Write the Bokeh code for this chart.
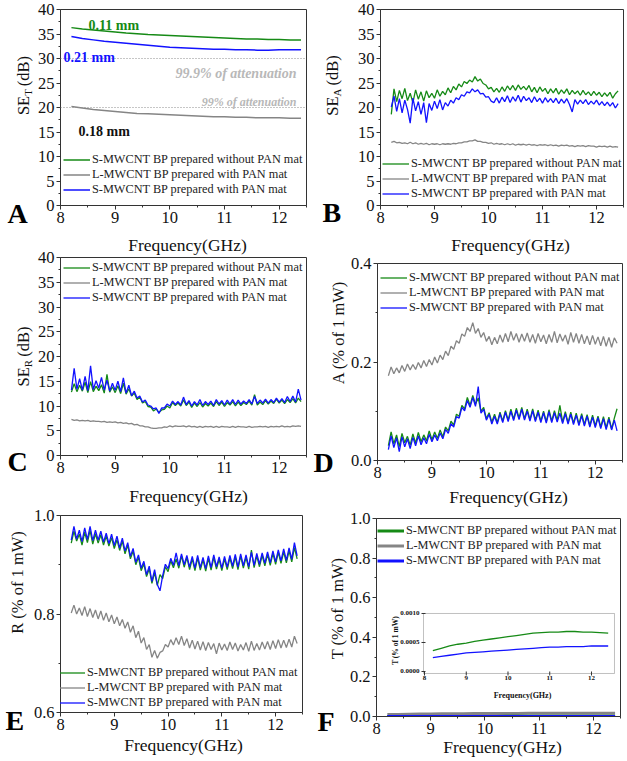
import math
from bokeh.plotting import figure
from bokeh.models import (Range1d, FixedTicker, NumeralTickFormatter, Label, Legend,
                          LegendItem, Span, BoxAnnotation, GridBox, Spacer)
from bokeh.layouts import row, column
from bokeh.core.properties import value
from bokeh.embed import file_html
from bokeh.resources import INLINE

FONT = "Liberation Serif"
GREEN = "#168a16"
BLUE = "#1212ff"
GRAY = "#858585"
AXIS = "#333333"

# ---------------- data ----------------
legend_labels = ["S-MWCNT BP prepared without PAN mat",
                 "L-MWCNT BP prepared with PAN mat",
                 "S-MWCNT BP prepared with PAN mat"]

x_ticks = [8, 9, 10, 11, 12]
x_minor = [8.5, 9.5, 10.5, 11.5, 12.5]

freq = [8.20, 8.25, 8.30, 8.35, 8.40, 8.45, 8.50, 8.55, 8.60, 8.65,
        8.70, 8.75, 8.80, 8.85, 8.90, 8.95, 9.00, 9.05, 9.10, 9.15,
        9.20, 9.25, 9.30, 9.35, 9.40, 9.45, 9.50, 9.55, 9.60, 9.65,
        9.70, 9.75, 9.80, 9.85, 9.90, 9.95, 10.00, 10.05, 10.10, 10.15,
        10.20, 10.25, 10.30, 10.35, 10.40, 10.45, 10.50, 10.55, 10.60, 10.65,
        10.70, 10.75, 10.80, 10.85, 10.90, 10.95, 11.00, 11.05, 11.10, 11.15,
        11.20, 11.25, 11.30, 11.35, 11.40, 11.45, 11.50, 11.55, 11.60, 11.65,
        11.70, 11.75, 11.80, 11.85, 11.90, 11.95, 12.00, 12.05, 12.10, 12.15,
        12.20, 12.25, 12.30, 12.35, 12.40]

freq_s = [8.2, 8.4, 8.6, 8.8, 9.0, 9.2, 9.4, 9.6, 9.8, 10.0, 10.2,
          10.4, 10.6, 10.8, 11.0, 11.2, 11.4, 11.6, 11.8, 12.0, 12.2, 12.4]

# Panel A: SE_T (dB)
set_green = [36.3, 36.0, 35.8, 35.6, 35.4, 35.2, 35.05, 34.9, 34.8, 34.7, 34.6,
             34.5, 34.4, 34.3, 34.2, 34.1, 34.0, 34.0, 33.9, 33.9, 33.8, 33.8]
set_gray = [20.2, 19.9, 19.6, 19.4, 19.2, 19.0, 18.8, 18.7, 18.6, 18.5, 18.4,
            18.3, 18.2, 18.1, 18.1, 18.0, 18.0, 17.9, 17.9, 17.9, 17.8, 17.8]
set_blue = [34.5, 34.1, 33.8, 33.5, 33.3, 33.1, 32.9, 32.7, 32.5, 32.3, 32.2,
            32.1, 32.0, 31.9, 31.9, 31.8, 31.8, 31.7, 31.7, 31.8, 31.8, 31.8]
atten_levels = [30, 20]
atten_texts = ["99.9% of attenuation", "99% of attenuation"]
thickness_texts = ["0.11 mm", "0.21 mm", "0.18 mm"]

# Panel B: SE_A (dB)
sea_green = [18.6, 23.8, 21.2, 23.5, 21.8, 23.9, 21.4, 22.9, 21.0, 23.6,
             21.7, 23.2, 21.3, 23.4, 22.0, 22.9, 21.9, 23.6, 22.3, 23.3,
             22.6, 24.0, 23.0, 24.3, 23.6, 24.8, 24.2, 25.3, 24.9, 25.6,
             25.2, 26.3, 25.4, 25.8, 24.9, 24.6, 23.8, 24.1, 23.2, 23.9,
             23.1, 24.2, 23.3, 24.4, 23.6, 24.5, 23.5, 24.6, 23.7, 24.3,
             23.6, 24.5, 23.2, 24.1, 23.0, 24.2, 23.3, 23.9, 22.8, 23.8,
             23.0, 23.9, 22.7, 23.6, 22.9, 23.8, 22.6, 23.5, 22.8, 23.4,
             22.5, 23.5, 22.6, 23.2, 22.4, 23.3, 22.5, 23.1, 22.2, 23.0,
             22.3, 23.1, 21.9, 22.8, 23.4]
sea_gray = [12.9, 13.1, 12.8, 12.9, 12.7, 12.8, 12.6, 12.9, 12.6, 12.8,
            12.5, 12.7, 12.5, 12.7, 12.4, 12.6, 12.5, 12.6, 12.4, 12.6,
            12.5, 12.6, 12.5, 12.7, 12.6, 12.8, 12.8, 13.0, 13.0, 13.2,
            13.2, 13.4, 13.1, 13.1, 12.9, 12.9, 12.7, 12.8, 12.5, 12.7,
            12.5, 12.6, 12.4, 12.6, 12.4, 12.6, 12.3, 12.5, 12.4, 12.5,
            12.3, 12.5, 12.3, 12.4, 12.2, 12.4, 12.3, 12.4, 12.2, 12.4,
            12.2, 12.3, 12.1, 12.3, 12.2, 12.3, 12.1, 12.2, 12.0, 12.2,
            12.1, 12.2, 12.0, 12.2, 12.1, 12.1, 11.9, 12.1, 12.0, 12.1,
            11.9, 12.1, 11.9, 12.0, 11.9]
sea_blue = [20.1, 22.3, 19.2, 21.8, 18.9, 21.5, 19.6, 16.8, 21.9, 19.3,
            21.2, 18.6, 21.0, 16.9, 20.8, 19.4, 21.3, 19.8, 21.6, 19.5,
            21.0, 20.3, 21.5, 20.9, 22.0, 21.6, 22.6, 22.3, 23.2, 23.0,
            23.8, 23.2, 23.6, 22.8, 22.9, 22.1, 22.2, 21.3, 21.0, 22.0,
            20.9, 22.1, 21.2, 22.4, 21.0, 22.2, 21.3, 22.5, 21.1, 22.3,
            21.4, 22.0, 21.0, 22.2, 21.2, 21.9, 20.9, 22.0, 21.1, 21.8,
            21.0, 21.9, 20.8, 21.7, 20.9, 21.8, 20.6, 19.1, 21.6, 20.7,
            21.5, 20.8, 21.6, 20.6, 21.3, 20.7, 21.5, 20.5, 21.2, 20.4,
            21.1, 20.3, 21.0, 19.9, 20.8]

# Panel C: SE_R (dB)
ser_green = [12.8, 14.5, 12.9, 14.2, 13.0, 14.8, 12.7, 14.9, 12.9, 14.0,
             13.1, 14.3, 12.6, 16.4, 12.8, 13.9, 12.7, 14.1, 12.5, 14.6,
             12.4, 13.5, 12.0, 12.6, 11.3, 11.8, 10.6, 10.9, 9.9, 9.8,
             9.0, 9.4, 8.7, 9.2, 9.3, 10.0, 9.6, 10.7, 10.1, 10.6,
             10.0, 11.2, 10.1, 10.8, 9.7, 10.6, 9.9, 10.7, 9.8, 10.5,
             10.0, 10.6, 9.9, 10.9, 10.1, 10.8, 9.9, 10.7, 10.2, 10.9,
             10.0, 10.8, 10.1, 10.7, 10.3, 11.0, 10.2, 12.3, 10.2, 10.8,
             10.3, 11.1, 10.4, 11.0, 10.5, 11.4, 10.6, 11.2, 10.5, 11.3,
             10.7, 11.5, 10.6, 11.6, 10.9]
ser_gray = [7.3, 7.1, 7.2, 7.0, 7.1, 7.0, 7.1, 6.9, 7.0, 6.9,
            6.9, 6.8, 6.9, 6.7, 6.8, 6.7, 6.8, 6.6, 6.7, 6.5,
            6.6, 6.4, 6.5, 6.2, 6.3, 6.0, 6.0, 5.8, 5.8, 5.6,
            5.5, 5.5, 5.6, 5.6, 5.8, 5.7, 6.0, 5.8, 6.0, 5.9,
            5.9, 6.0, 5.8, 6.0, 5.8, 5.9, 5.7, 5.9, 5.7, 5.9,
            5.8, 5.9, 5.7, 5.9, 5.7, 5.9, 5.8, 5.8, 5.7, 5.9,
            5.7, 5.9, 5.8, 5.8, 5.7, 5.9, 5.7, 5.8, 5.8, 5.9,
            5.8, 5.9, 5.7, 5.9, 5.8, 5.9, 5.8, 6.0, 5.8, 5.9,
            5.8, 6.0, 5.9, 6.0, 5.9]
ser_blue = [13.2, 17.6, 13.4, 15.5, 13.2, 16.0, 13.1, 18.1, 13.3, 15.1,
            13.6, 15.8, 13.2, 15.2, 13.0, 14.6, 13.2, 15.0, 12.9, 15.7,
            12.6, 14.2, 12.1, 13.0, 11.6, 12.0, 10.8, 11.2, 10.2, 10.0,
            9.4, 9.6, 8.5, 9.6, 9.6, 10.4, 10.0, 11.0, 10.3, 10.9,
            10.2, 11.8, 10.3, 11.1, 10.0, 10.9, 10.2, 11.3, 10.1, 10.9,
            10.3, 11.0, 10.1, 11.3, 10.4, 11.1, 10.2, 11.2, 10.4, 11.3,
            10.3, 11.2, 10.4, 11.0, 10.5, 11.3, 10.4, 11.9, 10.5, 11.2,
            10.6, 11.4, 10.6, 11.3, 10.7, 11.6, 10.8, 11.5, 10.7, 11.9,
            10.9, 12.0, 10.8, 13.4, 11.2]

# Panel D: A (% of 1 mW)
abs_green = [0.030, 0.058, 0.034, 0.052, 0.028, 0.055, 0.036, 0.049, 0.031, 0.054,
             0.035, 0.057, 0.038, 0.052, 0.040, 0.060, 0.042, 0.058, 0.045, 0.062,
             0.048, 0.068, 0.060, 0.080, 0.072, 0.094, 0.090, 0.112, 0.105, 0.128,
             0.112, 0.132, 0.114, 0.127, 0.100, 0.108, 0.085, 0.097, 0.078, 0.094,
             0.077, 0.098, 0.080, 0.101, 0.082, 0.104, 0.084, 0.106, 0.086, 0.108,
             0.085, 0.104, 0.083, 0.105, 0.082, 0.102, 0.080, 0.100, 0.079, 0.103,
             0.080, 0.101, 0.081, 0.112, 0.078, 0.099, 0.077, 0.098, 0.076, 0.096,
             0.074, 0.095, 0.073, 0.093, 0.071, 0.092, 0.070, 0.090, 0.068, 0.089,
             0.066, 0.088, 0.064, 0.086, 0.105]
abs_gray = [0.172, 0.190, 0.176, 0.188, 0.178, 0.193, 0.181, 0.196, 0.184, 0.195,
            0.185, 0.199, 0.188, 0.203, 0.191, 0.205, 0.194, 0.210, 0.198, 0.214,
            0.205, 0.222, 0.213, 0.232, 0.226, 0.243, 0.238, 0.257, 0.252, 0.270,
            0.262, 0.280, 0.258, 0.268, 0.250, 0.260, 0.242, 0.252, 0.235, 0.250,
            0.237, 0.255, 0.240, 0.258, 0.241, 0.262, 0.244, 0.258, 0.240, 0.257,
            0.242, 0.259, 0.240, 0.256, 0.238, 0.258, 0.241, 0.255, 0.237, 0.256,
            0.240, 0.262, 0.239, 0.257, 0.242, 0.255, 0.236, 0.260, 0.240, 0.258,
            0.238, 0.256, 0.237, 0.253, 0.235, 0.254, 0.236, 0.251, 0.233, 0.252,
            0.232, 0.250, 0.230, 0.249, 0.238]
abs_blue = [0.022, 0.050, 0.026, 0.046, 0.018, 0.048, 0.028, 0.044, 0.024, 0.047,
            0.030, 0.050, 0.032, 0.046, 0.034, 0.053, 0.038, 0.052, 0.040, 0.056,
            0.044, 0.063, 0.055, 0.075, 0.068, 0.089, 0.086, 0.108, 0.101, 0.122,
            0.108, 0.128, 0.110, 0.150, 0.096, 0.104, 0.082, 0.094, 0.074, 0.090,
            0.074, 0.095, 0.077, 0.098, 0.079, 0.100, 0.081, 0.102, 0.083, 0.104,
            0.082, 0.100, 0.080, 0.101, 0.079, 0.098, 0.077, 0.097, 0.076, 0.099,
            0.077, 0.097, 0.078, 0.096, 0.075, 0.095, 0.074, 0.094, 0.073, 0.092,
            0.071, 0.091, 0.070, 0.090, 0.068, 0.088, 0.067, 0.087, 0.065, 0.085,
            0.063, 0.084, 0.062, 0.082, 0.060]

# Panel E: R (% of 1 mW)
ref_green = [0.944, 0.968, 0.948, 0.962, 0.940, 0.966, 0.945, 0.970, 0.942, 0.963,
             0.944, 0.961, 0.940, 0.958, 0.938, 0.955, 0.933, 0.951, 0.929, 0.948,
             0.922, 0.940, 0.912, 0.928, 0.900, 0.915, 0.888, 0.902, 0.876, 0.892,
             0.862, 0.884, 0.858, 0.880, 0.872, 0.896, 0.886, 0.908, 0.894, 0.912,
             0.893, 0.918, 0.895, 0.915, 0.890, 0.912, 0.888, 0.914, 0.889, 0.910,
             0.887, 0.913, 0.889, 0.915, 0.891, 0.911, 0.888, 0.912, 0.890, 0.914,
             0.892, 0.916, 0.890, 0.918, 0.893, 0.915, 0.891, 0.930, 0.894, 0.918,
             0.896, 0.919, 0.898, 0.921, 0.899, 0.923, 0.901, 0.925, 0.903, 0.926,
             0.904, 0.928, 0.906, 0.935, 0.912]
ref_gray = [0.802, 0.818, 0.800, 0.812, 0.797, 0.815, 0.795, 0.811, 0.793, 0.808,
            0.790, 0.806, 0.787, 0.802, 0.784, 0.798, 0.780, 0.794, 0.776, 0.789,
            0.771, 0.784, 0.763, 0.776, 0.752, 0.765, 0.741, 0.752, 0.728, 0.738,
            0.712, 0.726, 0.710, 0.722, 0.725, 0.738, 0.733, 0.748, 0.737, 0.752,
            0.738, 0.755, 0.736, 0.750, 0.731, 0.747, 0.729, 0.745, 0.727, 0.744,
            0.726, 0.742, 0.728, 0.740, 0.719, 0.741, 0.727, 0.739, 0.726, 0.743,
            0.728, 0.741, 0.725, 0.738, 0.727, 0.742, 0.724, 0.745, 0.726, 0.740,
            0.727, 0.743, 0.729, 0.744, 0.728, 0.746, 0.730, 0.748, 0.731, 0.747,
            0.732, 0.749, 0.733, 0.755, 0.740]
ref_blue = [0.950, 0.978, 0.952, 0.970, 0.947, 0.975, 0.951, 0.978, 0.949, 0.970,
            0.950, 0.968, 0.946, 0.964, 0.943, 0.962, 0.939, 0.958, 0.934, 0.954,
            0.928, 0.945, 0.917, 0.933, 0.905, 0.920, 0.893, 0.907, 0.880, 0.897,
            0.866, 0.890, 0.860, 0.847, 0.878, 0.901, 0.892, 0.913, 0.899, 0.924,
            0.898, 0.922, 0.900, 0.919, 0.895, 0.917, 0.893, 0.919, 0.894, 0.915,
            0.892, 0.918, 0.894, 0.920, 0.896, 0.916, 0.893, 0.917, 0.895, 0.919,
            0.897, 0.921, 0.895, 0.922, 0.898, 0.920, 0.896, 0.925, 0.899, 0.923,
            0.901, 0.924, 0.903, 0.926, 0.904, 0.928, 0.906, 0.930, 0.908, 0.932,
            0.909, 0.934, 0.911, 0.945, 0.918]

# Panel F: T (% of 1 mW) and inset
tr_gray = [0.0095, 0.0105, 0.0113, 0.0120, 0.0127, 0.0133, 0.0138, 0.0142, 0.0146, 0.0149, 0.0152,
           0.0154, 0.0156, 0.0158, 0.0159, 0.0160, 0.0161, 0.0162, 0.0162, 0.0163, 0.0164, 0.0164]
tr_green = [0.00036, 0.00040, 0.00044, 0.00047, 0.00049, 0.00052, 0.00054, 0.00056, 0.00058, 0.00060, 0.00062,
            0.00064, 0.00066, 0.00067, 0.00068, 0.00068, 0.00069, 0.00069, 0.00068, 0.00068, 0.00067, 0.00066]
tr_blue = [0.00024, 0.00026, 0.00028, 0.00030, 0.00032, 0.00033, 0.00034, 0.00035, 0.00036, 0.00037, 0.00038,
           0.00039, 0.00040, 0.00041, 0.00042, 0.00042, 0.00043, 0.00043, 0.00043, 0.00044, 0.00044, 0.00044]
inset_xticks = [8, 9, 10, 11, 12]
inset_xlabels = ["8", "9", "10", "11", "12"]
inset_yticks = [0.0, 0.0005, 0.0010]
inset_ylabels = ["0.0000", "0.0005", "0.0010"]

panel_letters = ["A", "B", "C", "D", "E", "F"]
x_title = "Frequency(GHz)"
y_plain_titles = ["A (% of 1 mW)", "R (% of 1 mW)", "T (% of 1 mW)"]
se_subs = ["T", "A", "R"]


# ---------------- helpers ----------------
def make_fig(w, h, bl, br, bt, bb, ys, ye, yt, ym, fmt):
    p = figure(width=w, height=h, x_range=Range1d(8, 12.5), y_range=Range1d(ys, ye),
               output_backend="svg", toolbar_location=None,
               min_border_left=bl, min_border_right=br, min_border_top=bt, min_border_bottom=bb)
    p.grid.visible = False
    p.outline_line_color = AXIS
    p.outline_line_width = 1
    p.xaxis.ticker = FixedTicker(ticks=x_ticks, minor_ticks=x_minor)
    p.yaxis.ticker = FixedTicker(ticks=yt, minor_ticks=ym)
    p.yaxis.formatter = NumeralTickFormatter(format=fmt)
    p.axis.axis_line_color = AXIS
    p.axis.major_tick_line_color = AXIS
    p.axis.minor_tick_line_color = AXIS
    p.axis.major_tick_out = 4
    p.axis.major_tick_in = 0
    p.axis.minor_tick_out = 2
    p.axis.minor_tick_in = 0
    p.axis.major_label_text_font = FONT
    p.axis.major_label_text_font_size = "16.5px"
    p.axis.major_label_text_color = "#111111"
    p.axis.major_label_standoff = 2
    return p


def lab(p, text, x, y, size, color="#111111", style="normal", angle=0.0,
        align="left", baseline="alphabetic"):
    p.add_layout(Label(x=x, y=y, x_units="screen", y_units="screen", text=text,
                       text_font=FONT, text_font_size=size, text_color=color,
                       text_font_style=style, angle=angle, text_align=align,
                       text_baseline=baseline))


def add_legend(p, rends, loc):
    items = [LegendItem(label=l, renderers=[r]) for l, r in zip(legend_labels, rends)]
    lg = Legend(items=items, location=loc, orientation="vertical", glyph_width=27,
                glyph_height=13, label_height=13, label_standoff=2, spacing=0,
                padding=0, margin=0, border_line_alpha=0, background_fill_alpha=0,
                label_text_font=FONT, label_text_font_size="12.3px",
                label_text_color="#222222")
    p.add_layout(lg)


LW = 1.3
yt40 = [0, 5, 10, 15, 20, 25, 30, 35, 40]
ym40 = [2.5, 7.5, 12.5, 17.5, 22.5, 27.5, 32.5, 37.5]

# ---------------- A ----------------
pA = make_fig(313, 247, 60, 7, 9, 42, 0, 40, yt40, ym40, "0")
for lv in atten_levels:
    pA.add_layout(Span(location=lv, dimension="width", line_color="#8c8c8c",
                       line_dash="1 2", line_width=1))
gA = pA.line(freq_s, set_green, line_color=GREEN, line_width=1.5)
kA = pA.line(freq_s, set_gray, line_color=GRAY, line_width=1.5)
bA = pA.line(freq_s, set_blue, line_color=BLUE, line_width=1.5)
add_legend(pA, [gA, kA, bA], (3, 8))
lab(pA, thickness_texts[0], 28, 180, "14px", color=GREEN, style="bold")
lab(pA, thickness_texts[1], 3, 148, "14px", color=BLUE, style="bold")
lab(pA, thickness_texts[2], 18, 74, "14px", color="#111111", style="bold")
lab(pA, atten_texts[0], 236, 132, "14px", color="#b8b8b8", style="bold italic", align="right")
lab(pA, atten_texts[1], 236, 104, "12px", color="#b8b8b8", style="bold italic", align="right")

# ---------------- B ----------------
pB = make_fig(314, 247, 67, 4, 9, 42, 0, 40, yt40, ym40, "0")
gB = pB.line(freq, sea_green, line_color=GREEN, line_width=LW)
kB = pB.line(freq, sea_gray, line_color=GRAY, line_width=LW)
bB = pB.line(freq, sea_blue, line_color=BLUE, line_width=LW)
add_legend(pB, [gB, kB, bB], (2, 4))

# ---------------- C ----------------
pC = make_fig(313, 248, 60, 7, 10, 40, 0, 40, yt40, ym40, "0")
kC = pC.line(freq, ser_gray, line_color=GRAY, line_width=LW)
gC = pC.line(freq, ser_green, line_color=GREEN, line_width=LW)
bC = pC.line(freq, ser_blue, line_color=BLUE, line_width=LW)
add_legend(pC, [gC, kC, bC], (3, 150))

# ---------------- D ----------------
pD = make_fig(314, 247, 64, 5, 10, 40, 0, 0.4, [0, 0.2, 0.4], [0.1, 0.3], "0.0")
kD = pD.line(freq, abs_gray, line_color=GRAY, line_width=LW)
gD = pD.line(freq, abs_green, line_color=GREEN, line_width=LW)
bD = pD.line(freq, abs_blue, line_color=BLUE, line_width=LW)
add_legend(pD, [gD, kD, bD], (3, 145))

# ---------------- E ----------------
pE = make_fig(313, 257, 60, 11, 15, 45, 0.6, 1.0, [0.6, 0.8, 1.0], [0.7, 0.9], "0.0")
kE = pE.line(freq, ref_gray, line_color=GRAY, line_width=LW)
gE = pE.line(freq, ref_green, line_color=GREEN, line_width=LW)
bE = pE.line(freq, ref_blue, line_color=BLUE, line_width=LW)
add_legend(pE, [gE, kE, bE], (-2, 2))

# ---------------- F ----------------
pF = make_fig(314, 258, 63, 7, 15, 45, 0, 1.0, [0, 0.2, 0.4, 0.6, 0.8, 1.0],
              [0.1, 0.3, 0.5, 0.7, 0.9], "0.0")
kF = pF.line(freq_s, tr_gray, line_color=GRAY, line_width=3)
gF = pF.line(freq_s, tr_green, line_color=GREEN, line_width=3)
bF = pF.line(freq_s, tr_blue, line_color=BLUE, line_width=3)
add_legend(pF, [gF, kF, bF], (1, 148))

# inset, drawn through its own ranges inside panel F
pF.extra_x_ranges = {"ix": Range1d(6.850, 12.695)}
pF.extra_y_ranges = {"iy": Range1d(-0.000776, 0.002638)}
in_left, in_right, in_bottom, in_top = 7.976, 12.551, -0.0000345, 0.0010
pF.add_layout(BoxAnnotation(left=in_left, right=in_right, bottom=in_bottom, top=in_top,
                            x_range_name="ix", y_range_name="iy", fill_alpha=0,
                            line_color=AXIS, line_width=1))
pF.line(freq_s, tr_green, line_color=GREEN, line_width=1.3, x_range_name="ix", y_range_name="iy")
pF.line(freq_s, tr_blue, line_color=BLUE, line_width=1.3, x_range_name="ix", y_range_name="iy")
pF.scatter(x=inset_xticks, y=[in_bottom] * len(inset_xticks), marker="dash", angle=math.pi / 2,
           size=4, line_color=AXIS, x_range_name="ix", y_range_name="iy")
pF.scatter(x=[in_left] * len(inset_yticks), y=inset_yticks, marker="dash",
           size=4, line_color=AXIS, x_range_name="ix", y_range_name="iy")
pF.text(x=inset_xticks, y=[in_bottom] * len(inset_xticks), text=inset_xlabels,
        x_range_name="ix", y_range_name="iy", text_align="center", text_baseline="top",
        y_offset=3, text_font=value(FONT), text_font_style="bold",
        text_font_size=value("7px"), text_color="#111111")
pF.text(x=[in_left] * len(inset_yticks), y=inset_yticks, text=inset_ylabels,
        x_range_name="ix", y_range_name="iy", text_align="right", text_baseline="middle",
        x_offset=-4, text_font=value(FONT), text_font_style="bold",
        text_font_size=value("7px"), text_color="#111111")
lab(pF, y_plain_titles[2], 19, 76, "7.5px", style="bold", angle=math.pi / 2, align="center")
lab(pF, x_title, 146, 21, "8px", style="bold", align="center")

main = column(
    row(pA, pB),
    row(pC, column(Spacer(width=314, height=6), pD)),
    row(pE, column(Spacer(width=314, height=3), pF)),
)

# ---------------- overlay for texts outside the plot frames ----------------
W, H = 627, 761
ov = figure(width=W, height=H, x_range=Range1d(0, W), y_range=Range1d(0, H),
            x_axis_type=None, y_axis_type=None, min_border=0,
            toolbar_location=None, output_backend="svg",
            background_fill_alpha=0, border_fill_alpha=0, outline_line_color=None)
ov.grid.visible = False


def otext(x, y_top, text, size, angle=0.0, align="left", style="normal", color="#111111"):
    ov.text(x=[x], y=[H - y_top], text=[text], angle=angle, text_align=align,
            text_baseline="alphabetic", text_font=value(FONT),
            text_font_size=value(size), text_font_style=style, text_color=color)


# panel letters (left, baseline)
letter_pos = [(7, 213), (322, 212), (7, 461), (313, 462), (5, 720), (317, 721)]
for t, (lx, ly) in zip(panel_letters, letter_pos):
    otext(lx, ly, t, "28px", style="bold", color="#000000")

# x titles (center, baseline)
xt_pos = [(187, 244), (510, 244), (188, 495), (508, 496), (183, 744), (502, 746)]
for (tx, ty) in xt_pos:
    otext(tx, ty, x_title, "17.5px", align="center")

# y titles with subscripts (baseline x, vertical centre)
se_pos = [(23, 85), (332, 85), (23, 356)]
for sub, (bx, yc) in zip(se_subs, se_pos):
    w_se = 1.167 * 16.5
    w_sub = {"T": 0.611, "A": 0.722, "R": 0.667}[sub] * 11
    w_gap = 3.0
    w_db = 1.833 * 16.5
    y0 = yc + (w_se + w_sub + w_gap + w_db) / 2
    otext(bx, y0, "SE", "16.5px", angle=math.pi / 2)
    otext(bx + 4, y0 - w_se, sub, "11px", angle=math.pi / 2)
    otext(bx, y0 - w_se - w_sub - w_gap, "(dB)", "16.5px", angle=math.pi / 2)

# plain y titles (baseline x, centre)
yp_pos = [(338, 332), (17, 582), (337, 608)]
for t, (bx, yc) in zip(y_plain_titles, yp_pos):
    otext(bx, yc, t, "16.5px", angle=math.pi / 2, align="center")

layout = GridBox(children=[(main, 0, 0), (ov, 0, 0)])
open("out.html", "w").write(file_html(layout, INLINE))
